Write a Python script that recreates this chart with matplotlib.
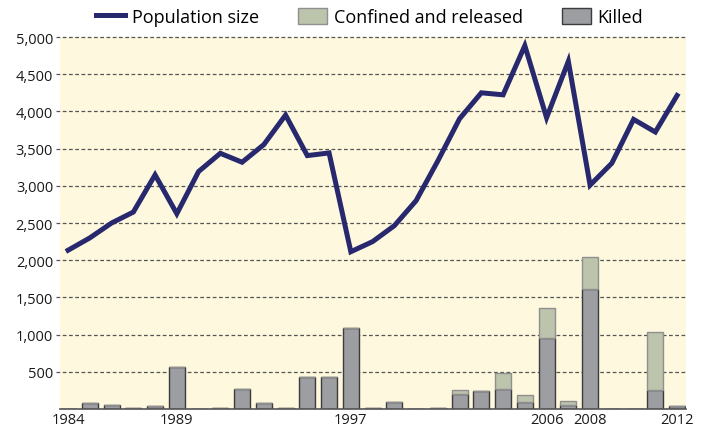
import matplotlib
matplotlib.use('Agg')
import matplotlib.pyplot as plt
import matplotlib.ticker as mticker

plt.rcParams['font.family'] = ['Open Sans', 'DejaVu Sans']

years = list(range(1984, 2013))
population = [2134, 2300, 2500, 2647, 3147, 2625, 3192, 3437, 3317, 3554,
              3951, 3406, 3442, 2114, 2250, 2464, 2800, 3335, 3902, 4250,
              4223, 4884, 3915, 4674, 3009, 3304, 3893, 3723, 4214]
killed = [0, 85, 50, 10, 35, 570, 5, 15, 270, 77,
          10, 425, 430, 1085, 10, 90, 0, 15, 200, 240,
          270, 95, 955, 55, 1610, 0, 0, 250, 35]
confined = [0, 0, 0, 0, 0, 0, 0, 0, 0, 0,
            0, 0, 0, 0, 0, 0, 0, 5, 50, 5,
            215, 90, 405, 55, 435, 5, 5, 790, 0]
tick_years = [1984, 1989, 1997, 2006, 2008, 2012]

fig = plt.figure(figsize=(7.07, 4.31), dpi=100)
ax = fig.add_axes([0.0849, 0.0487, 0.8854, 0.8631])
ax.set_facecolor('#fef9de')

for v in range(500, 5001, 500):
    ax.plot([-0.006, 1], [v, v], transform=ax.get_yaxis_transform(),
            color='#555555', lw=0.9, ls=(0, (3, 2)), clip_on=False, zorder=1)

ax.bar(years, killed, width=0.74, color='#9d9ea2', edgecolor='#3c3c3c',
       linewidth=1, zorder=2, label='Killed')
ax.bar(years, confined, width=0.74, bottom=killed, color='#bcc4ac',
       edgecolor='#8f8f8f', linewidth=1, zorder=2, label='Confined and released')
ax.plot(years, population, color='#27286e', lw=3.6, zorder=3,
        solid_joinstyle='miter', label='Population size')

ax.set_xlim(1983.63, 2012.41)
ax.set_ylim(0, 5000)
ax.set_xticks(tick_years)
ax.set_yticks(range(500, 5001, 500))
ax.yaxis.set_major_formatter(mticker.FuncFormatter(lambda v, p: f'{int(v):,}'))
ax.tick_params(axis='both', length=0, labelsize=10.5, colors='#1a1a1a')
ax.tick_params(axis='y', pad=5)
ax.tick_params(axis='x', pad=2)
for s in ['left', 'right', 'top']:
    ax.spines[s].set_visible(False)
ax.spines['bottom'].set_color('#555555')
ax.spines['bottom'].set_linewidth(1.2)

h, l = ax.get_legend_handles_labels()
order = [0, 2, 1]
fig.legend([h[i] for i in order], [l[i] for i in order], loc='center',
           bbox_to_anchor=(0.523, 0.958), ncol=3, frameon=False, fontsize=13,
           handlelength=1.6, handleheight=1.0, handletextpad=0.35, columnspacing=2.2)

fig.savefig('out.png', dpi=100)
